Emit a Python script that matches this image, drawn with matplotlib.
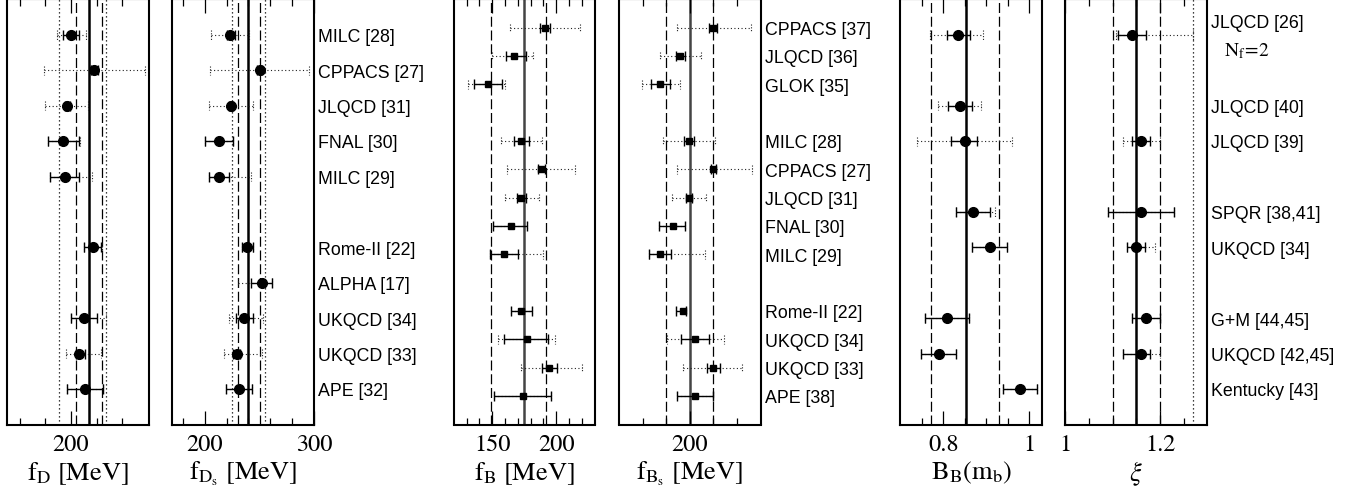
import matplotlib
matplotlib.use("Agg")
import matplotlib.pyplot as plt
import numpy as np
from matplotlib.transforms import blended_transform_factory, offset_copy

plt.rcParams['mathtext.fontset'] = 'stix'

# ---- data: value, solid (stat) bounds, dotted (total) bounds ----
fd_rows = [0, 1, 2, 3, 4, 6, 8, 9, 10]
fd_val = [200.0, 218.2, 196.9, 193.8, 195.1, 217.1, 210.1, 206.0, 211.2]
fd_slo = [193.8, 215.5, 195.0, 182.1, 183.9, 210.4, 200.3, 203.6, 197.1]
fd_shi = [206.2, 221.0, 199.0, 206.2, 206.2, 223.6, 220.2, 210.6, 224.9]
fd_tlo = [189.1, 178.7, 179.5, 181.8, 183.4, 209.9, 200.3, 195.8, 197.1]
fd_thi = [211.4, 257.8, 213.0, 206.7, 216.1, 224.1, 227.0, 223.6, 224.9]

fds_rows = [0, 1, 2, 3, 4, 6, 7, 8, 9, 10]
fds_val = [223.1, 250.2, 224.0, 213.1, 213.1, 239.0, 252.4, 236.2, 229.2, 231.0]
fds_slo = [220.1, 248.0, 222.0, 200.0, 204.3, 234.4, 242.6, 228.3, 225.6, 219.2]
fds_shi = [228.0, 252.5, 226.0, 226.2, 222.5, 244.4, 261.8, 244.4, 232.3, 242.9]
fds_tlo = [206.1, 205.2, 204.3, 200.0, 204.3, 234.4, 230.1, 221.9, 217.4, 219.2]
fds_thi = [240.8, 295.0, 244.4, 226.2, 242.0, 244.4, 261.8, 253.3, 252.4, 242.9]

fdd_labels = ["MILC [28]", "CPPACS [27]", "JLQCD [31]", "FNAL [30]", "MILC [29]",
              "Rome-II [22]", "ALPHA [17]", "UKQCD [34]", "UKQCD [33]", "APE [32]"]
fdd_label_rows = [0, 1, 2, 3, 4, 6, 7, 8, 9, 10]

fb_rows = [0, 1, 2, 4, 5, 6, 7, 8, 10, 11, 12, 13]
fb_val = [191.4, 166.9, 146.9, 172.4, 188.0, 172.1, 164.3, 158.9, 172.4, 177.3, 194.5, 174.2]
fb_slo = [187.2, 160.4, 135.9, 166.9, 185.4, 169.5, 150.8, 148.2, 164.8, 159.4, 189.1, 151.6]
fb_shi = [195.1, 176.3, 157.6, 178.9, 191.4, 176.3, 177.3, 170.3, 181.0, 193.8, 200.5, 195.8]
fb_tlo = [164.1, 149.5, 131.3, 157.0, 161.7, 159.9, 150.8, 148.2, 164.8, 154.7, 172.1, 151.6]
fb_thi = [218.5, 182.0, 160.2, 188.5, 214.6, 186.5, 177.3, 189.6, 181.0, 199.0, 219.8, 195.8]

fbs_rows = [0, 1, 2, 4, 5, 6, 7, 8, 10, 11, 12, 13]
fbs_val = [219.4, 191.3, 174.9, 198.9, 219.7, 199.2, 185.4, 174.9, 194.1, 204.5, 219.4, 204.5]
fbs_slo = [216.6, 187.9, 167.3, 194.9, 217.5, 196.9, 174.1, 165.4, 188.5, 192.4, 214.4, 189.0]
fbs_shi = [223.4, 195.5, 183.4, 203.1, 222.0, 202.0, 196.1, 183.9, 196.9, 216.3, 225.6, 219.4]
fbs_tlo = [189.0, 174.4, 159.7, 177.2, 189.0, 185.1, 174.1, 165.4, 188.5, 180.6, 193.8, 189.0]
fbs_thi = [251.5, 209.3, 191.3, 221.7, 252.4, 213.5, 196.1, 213.0, 196.9, 228.5, 243.9, 219.4]

fbb_labels = ["CPPACS [37]", "JLQCD [36]", "GLOK [35]", "MILC [28]", "CPPACS [27]",
              "JLQCD [31]", "FNAL [30]", "MILC [29]", "Rome-II [22]", "UKQCD [34]",
              "UKQCD [33]", "APE [38]"]

bb_rows = [0, 2, 3, 5, 6, 8, 9, 10]
bb_val = [0.835, 0.839, 0.850, 0.869, 0.909, 0.809, 0.789, 0.980]
bb_slo = [0.808, 0.810, 0.819, 0.830, 0.868, 0.758, 0.749, 0.940]
bb_shi = [0.862, 0.868, 0.879, 0.910, 0.949, 0.860, 0.830, 1.019]
bb_tlo = [0.770, 0.788, 0.738, 0.830, 0.868, 0.758, 0.749, 0.940]
bb_thi = [0.892, 0.889, 0.960, 0.921, 0.949, 0.860, 0.830, 1.019]

xi_rows = [0, 3, 5, 6, 8, 9]
xi_val = [1.140, 1.160, 1.160, 1.150, 1.170, 1.160]
xi_slo = [1.111, 1.140, 1.091, 1.130, 1.140, 1.121]
xi_shi = [1.170, 1.179, 1.229, 1.168, 1.199, 1.179]
xi_tlo = [1.108, 1.121, 1.091, 1.130, 1.140, 1.121]
xi_thi = [1.270, 1.199, 1.229, 1.189, 1.199, 1.199]

bx_labels = ["JLQCD [26]", "JLQCD [40]", "JLQCD [39]", "SPQR [38,41]", "UKQCD [34]",
             "G+M [44,45]", "UKQCD [42,45]", "Kentucky [43]"]
bx_label_rows = [-0.4, 2, 3, 5, 6, 8, 9, 10]

# world-average bands: (value, style)
fd_bands = [(214, 'solid'), (204.2, 'dashed'), (224.1, 'dashed'), (191, 'dotted'), (227, 'dotted')]
fds_bands = [(239.5, 'solid'), (230.1, 'dashed'), (250.2, 'dashed'), (225.2, 'dotted'), (255.3, 'dotted')]
fb_bands = [(174.6, 'solid'), (149, 'dashed'), (192.2, 'dashed')]
fbs_bands = [(200, 'solid'), (180, 'dashed'), (220, 'dashed')]
bb_bands = [(0.852, 'solid'), (0.771, 'dashed'), (0.930, 'dashed')]
xi_bands = [(1.15, 'solid'), (1.1, 'dashed'), (1.2, 'dashed'), (1.27, 'dotted')]

W, H = 1351, 497
fig = plt.figure(figsize=(W / 100, H / 100), dpi=100)


def make_axes(x0, x1):
    top, bottom = -0.5, 424.5
    return fig.add_axes([x0 / W, (H - bottom) / H, (x1 - x0) / W, (bottom - top) / H])


def draw_bands(ax, bands, solid_color='k'):
    for v, style in bands:
        if style == 'solid':
            ax.axvline(v, color=solid_color, lw=1.8, zorder=1)
        elif style == 'dashed':
            ax.axvline(v, color='k', lw=0.9, dashes=(8, 3), zorder=1)
        else:
            ax.axvline(v, color='k', lw=0.9, dashes=(1, 2.2), zorder=1)


def draw_points(ax, rows, val, slo, shi, tlo, thi, marker, ms, cap):
    rows = np.array(rows, float)
    val, slo, shi = np.array(val), np.array(slo), np.array(shi)
    ax.hlines(rows, tlo, thi, colors='#222222', lw=0.8, linestyles=(0, (1, 2.2)), zorder=2)
    ax.vlines(tlo, rows - cap, rows + cap, colors='#222222', lw=0.8, linestyles=(0, (1, 1.5)), zorder=2)
    ax.vlines(thi, rows - cap, rows + cap, colors='#222222', lw=0.8, linestyles=(0, (1, 1.5)), zorder=2)
    ax.errorbar(val, rows, xerr=[val - slo, shi - val], fmt=marker, ms=ms, color='k',
                ecolor='k', elinewidth=1.0, capsize=3.5, capthick=1.0, zorder=3)


def style_axes(ax, xlim, nrows, major, major_labels, minor, xlabel):
    ax.set_xlim(*xlim)
    ax.set_ylim(nrows, -1)
    ax.set_yticks([])
    ax.set_xticks(major, labels=major_labels)
    ax.set_xticks(minor, minor=True)
    ax.tick_params(which='both', direction='in', top=True, bottom=True, width=0.9, pad=7)
    ax.tick_params(which='major', length=10)
    ax.tick_params(which='minor', length=5)
    for lab in ax.get_xticklabels():
        lab.set_fontfamily('STIXGeneral')
        lab.set_fontsize(17.5)
    for sp in ax.spines.values():
        sp.set_linewidth(1.5)
    ax.set_xlabel(xlabel, fontsize=19, labelpad=3)


def add_labels(ax, labels, rows):
    tr = blended_transform_factory(ax.transAxes, ax.transData)
    tr = offset_copy(tr, fig=fig, y=-2, units='points')
    for lab, r in zip(labels, rows):
        ax.text(1.028, r, lab, transform=tr, ha='left', va='center',
                fontsize=12.8, family='Liberation Sans', clip_on=False)


# f_D
ax = make_axes(6.7, 149.3)
draw_bands(ax, fd_bands)
draw_points(ax, fd_rows, fd_val, fd_slo, fd_shi, fd_tlo, fd_thi, 'o', 7, 0.13)
style_axes(ax, (150, 261), 11, [200], ["200"], [160, 180, 220, 240], r'$\mathrm{f_D\ [MeV]}$')

# f_Ds
ax = make_axes(172.3, 314)
draw_bands(ax, fds_bands)
draw_points(ax, fds_rows, fds_val, fds_slo, fds_shi, fds_tlo, fds_thi, 'o', 7, 0.13)
style_axes(ax, (170.4, 300), 11, [200, 300], ["200", "300"], [180, 220, 240, 260, 280],
           r'$\mathrm{f_{D_s}\ [MeV]}$')
add_labels(ax, fdd_labels, fdd_label_rows)

# f_B
ax = make_axes(454, 595.3)
draw_bands(ax, fb_bands, solid_color='#444444')
draw_points(ax, fb_rows, fb_val, fb_slo, fb_shi, fb_tlo, fb_thi, 's', 5, 0.15)
style_axes(ax, (120.1, 230.5), 14, [150, 200], ["150", "200"],
           [130, 140, 160, 170, 180, 190, 210, 220], r'$\mathrm{f_B\ [MeV]}$')

# f_Bs
ax = make_axes(619, 760.7)
draw_bands(ax, fbs_bands, solid_color='#444444')
draw_points(ax, fbs_rows, fbs_val, fbs_slo, fbs_shi, fbs_tlo, fbs_thi, 's', 5, 0.15)
style_axes(ax, (140, 260), 14, [200], ["200"], [160, 180, 220, 240],
           r'$\mathrm{f_{B_s}\ [MeV]}$')
add_labels(ax, fbb_labels, fb_rows)

# B_B(m_b)
ax = make_axes(900, 1042.3)
draw_bands(ax, bb_bands)
draw_points(ax, bb_rows, bb_val, bb_slo, bb_shi, bb_tlo, bb_thi, 'o', 7, 0.13)
style_axes(ax, (0.699, 1.031), 11, [0.8, 1.0], ["0.8", "1"], [0.75, 0.85, 0.9, 0.95],
           r'$\mathrm{B_B(m_b)}$')

# xi
ax = make_axes(1065, 1206.7)
draw_bands(ax, xi_bands)
draw_points(ax, xi_rows, xi_val, xi_slo, xi_shi, xi_tlo, xi_thi, 'o', 7, 0.13)
style_axes(ax, (1.0, 1.298), 11, [1.0, 1.2], ["1", "1.2"], [1.05, 1.1, 1.15, 1.25], r'$\xi$')
add_labels(ax, bx_labels, bx_label_rows)
tr = blended_transform_factory(ax.transAxes, ax.transData)
ax.text(1.12, 0.45, r'$\mathrm{N_f\!=\!2}$', transform=tr, ha='left', va='center',
        fontsize=14, clip_on=False)

fig.savefig("out.png", dpi=100)
